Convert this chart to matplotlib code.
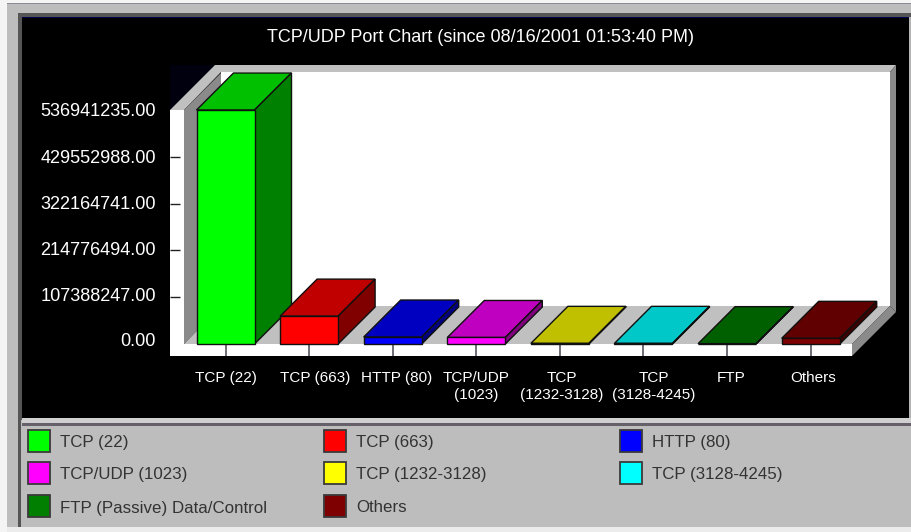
import matplotlib
matplotlib.use('Agg')
import matplotlib.pyplot as plt
from matplotlib.patches import Polygon, Rectangle
from matplotlib.transforms import Affine2D, ScaledTranslation

plt.rcParams['font.family'] = ['Liberation Sans', 'DejaVu Sans']

title = 'TCP/UDP Port Chart (since 08/16/2001 01:53:40 PM)'
categories = ['TCP (22)', 'TCP (663)', 'HTTP (80)', 'TCP/UDP\n(1023)', 'TCP\n(1232-3128)',
              'TCP\n(3128-4245)', 'FTP', 'Others']
values = [536941235, 64000000, 16000000, 15000000, 1500000, 1500000, 800000, 13000000]
y_ticks = [0, 107388247, 214776494, 322164741, 429552988, 536941235]
front_colors = ['#00ff00', '#ff0000', '#0000ff', '#ff00ff', '#c4c400', '#00cccc', '#006400', '#7f0000']
top_colors = ['#00c000', '#c00000', '#0000c0', '#c000c0', '#c0c000', '#00c8c8', '#006000', '#600000']
side_colors = ['#008000', '#800000', '#000080', '#800080', '#808000', '#008080', '#004000', '#400000']

legend_labels = ['TCP (22)', 'TCP (663)', 'HTTP (80)', 'TCP/UDP (1023)', 'TCP (1232-3128)',
                 'TCP (3128-4245)', 'FTP (Passive) Data/Control', 'Others']
legend_colors = ['#00ff00', '#ff0000', '#0000ff', '#ff00ff', '#ffff00', '#00ffff', '#007f00', '#7f0000']

W, H = 911, 532
DPI = 100
fig = plt.figure(figsize=(W / DPI, H / DPI), dpi=DPI, facecolor='#f4f4f4')
# pixel coordinates, origin top left, for the window frame
px = Affine2D().scale(1, -1).translate(0, H)


def frame_rect(x0, y0, x1, y1, color, z=-5):
    fig.add_artist(Rectangle((x0, y0), x1 - x0, y1 - y0, facecolor=color, edgecolor='none',
                             transform=px, zorder=z))


def frame_poly(points, color, z=-4):
    fig.add_artist(Polygon(points, closed=True, facecolor=color, edgecolor='none',
                           transform=px, zorder=z))


# window frame
frame_rect(7, 3, 911, 529, '#bdbdbd')
frame_rect(7, 3, 911, 4, '#8c8c98')
frame_rect(18, 13, 911, 420, '#555555')
frame_rect(22, 17, 909, 418, '#000000')
frame_rect(909, 17, 911, 418, '#b4b4b4')
frame_rect(22, 17, 909, 18, '#000050')
frame_rect(22, 418, 911, 424, '#d0d0d0')
frame_rect(22, 423, 911, 426, '#66606a')
frame_rect(18, 420, 21, 527, '#555555')
frame_rect(7, 527, 911, 532, '#ececec')

# chart box: walls and floor
frame_poly([(170, 65), (215, 65), (170, 110)], '#00000e')
frame_poly([(221, 72), (890, 72), (890, 306), (221, 306)], '#ffffff')
frame_poly([(170, 110), (215, 65), (896, 65), (890, 72), (221, 72), (184, 110)], '#c0c0c0')
frame_poly([(184, 110), (221, 73), (221, 306), (184, 344)], '#8a8a8a')
frame_poly([(184, 344), (221, 306), (890, 306), (852, 344)], '#c0c0c0')
frame_poly([(890, 72), (896, 65), (896, 312), (890, 306)], '#8a8a8a')
frame_poly([(852, 344), (890, 306), (896, 312), (852, 356)], '#8a8a8a')
frame_rect(170, 110, 184, 356, '#ffffff')
frame_rect(170, 344, 852, 356, '#ffffff')

# axes box runs from the front floor edge up to the largest value
ax = fig.add_axes([170 / W, (H - 344) / H, (852 - 170) / W, 234 / H])
ax.patch.set_visible(False)
for s in ax.spines.values():
    s.set_visible(False)
ax.set_ylim(0, 536941235)
slot = 83.6
ax.set_xlim((170 - 225.5) / slot, (852 - 225.5) / slot)

bar_w = 58 / slot
depth_x = 37 / slot
depth_y = 37 / 234 * 536941235

for i, v in enumerate(values):
    left = i - bar_w / 2
    right = i + bar_w / 2
    ax.add_patch(Polygon([(left, v), (right, v), (right + depth_x, v + depth_y), (left + depth_x, v + depth_y)],
                         facecolor=top_colors[i], edgecolor='#101010', linewidth=1, clip_on=False, zorder=3))
    ax.add_patch(Polygon([(right, 0), (right + depth_x, depth_y), (right + depth_x, v + depth_y), (right, v)],
                         facecolor=side_colors[i], edgecolor='#101010', linewidth=1, clip_on=False, zorder=3))
    ax.add_patch(Rectangle((left, 0), bar_w, v, facecolor=front_colors[i], edgecolor='#101010',
                           linewidth=1, clip_on=False, zorder=4))

ax.set_yticks(y_ticks)
ax.set_yticklabels(['%.2f' % t for t in y_ticks], color='white', fontsize=13.1)
ax.tick_params(axis='y', direction='in', length=7.5, width=1, color='#222222', pad=10)
# no tick marks at the two ends of the value axis
y_marks = ax.yaxis.get_major_ticks()
y_marks[0].tick1line.set_visible(False)
y_marks[-1].tick1line.set_visible(False)
ax.set_xticks(range(len(categories)))
ax.set_xticklabels(categories, color='white', fontsize=11, linespacing=1.35)
ax.tick_params(axis='x', direction='out', length=8.6, width=1.2, color='#555560', pad=10.5)

# the labels do not sit exactly at their ticks
label_shift = [0, 6, 4, 0, 2, 10, 4, 2]
for lab, shift in zip(ax.get_xticklabels(), label_shift):
    lab.set_transform(lab.get_transform() + ScaledTranslation(shift / DPI, 0, fig.dpi_scale_trans))
value_shift = [4, 3, 2, 1, 0, 1]
for lab, shift in zip(ax.get_yticklabels(), value_shift):
    lab.set_transform(lab.get_transform() + ScaledTranslation(0, shift / DPI, fig.dpi_scale_trans))

fig.text(481 / W, 1 - 37 / H, title, color='white', fontsize=13, ha='center', va='center')

# legend, three columns
col_x = [28, 324, 620]
row_y = [430, 462, 495]
for k, (name, c) in enumerate(zip(legend_labels, legend_colors)):
    x = col_x[k % 3]
    y = row_y[k // 3]
    fig.add_artist(Rectangle((x, y), 22, 22, facecolor=c, edgecolor='#3a3a3a', linewidth=1.3,
                             transform=px, zorder=-3))
    fig.text((x + 32) / W, 1 - (y + 13) / H, name, color='#333333', fontsize=12.2, ha='left', va='center')

fig.savefig('out.png', dpi=DPI)
